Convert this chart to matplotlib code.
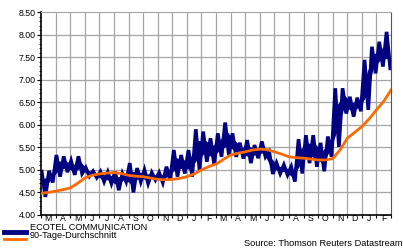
import numpy as np
import matplotlib
matplotlib.use("Agg")
from matplotlib import pyplot as plt
from matplotlib.lines import Line2D

plt.rcParams['font.family'] = ['Liberation Sans', 'DejaVu Sans']

#? Data, half-month highs and lows of the share price
months = ["M", "A", "M", "J", "J", "A", "S", "O", "N", "D", "J", "F",
          "M", "A", "M", "J", "J", "A", "S", "O", "N", "D", "J", "F"]

price_hi = [4.96, 4.98, 5.33, 5.30, 5.20, 5.30, 5.05, 4.97, 4.96, 4.95, 4.96, 4.92,
            5.15, 5.04, 5.00, 4.94, 4.94, 5.07, 5.44, 5.33, 5.44, 5.90, 5.85, 5.70,
            5.81, 6.05, 5.81, 5.60, 5.66, 5.55, 5.63, 5.40, 5.15, 5.11, 5.07, 5.68,
            5.77, 5.77, 5.60, 5.74, 6.81, 6.81, 6.62, 6.60, 7.44, 7.73, 7.84, 8.06]
price_lo = [4.40, 4.72, 4.85, 4.95, 4.89, 4.92, 4.86, 4.83, 4.74, 4.70, 4.55, 4.74,
            4.50, 4.74, 4.70, 4.78, 4.72, 4.78, 4.85, 4.92, 4.85, 5.00, 5.18, 5.12,
            5.29, 5.33, 5.29, 5.25, 5.15, 5.26, 5.29, 4.91, 4.92, 4.89, 4.74, 4.92,
            5.15, 5.07, 4.97, 5.29, 5.51, 6.25, 6.18, 6.30, 6.33, 7.14, 7.29, 7.25]

# 90-Tage-Durchschnitt, read at every half month
ma90 = [4.48, 4.50, 4.53, 4.56, 4.60, 4.70, 4.82, 4.88, 4.91, 4.93, 4.94, 4.92,
        4.88, 4.86, 4.85, 4.82, 4.79, 4.78, 4.79, 4.81, 4.85, 4.91, 5.00, 5.07,
        5.13, 5.23, 5.33, 5.37, 5.40, 5.44, 5.46, 5.45, 5.40, 5.35, 5.29, 5.27,
        5.26, 5.24, 5.22, 5.22, 5.25, 5.44, 5.70, 5.83, 5.96, 6.13, 6.33, 6.52, 6.77]

#? Zigzag between high and low so the line looks like the dense daily series
hi = np.array(price_hi)
lo = np.array(price_lo)
zig = np.column_stack([hi, lo]).ravel()
t_zig = np.linspace(0.05, 23.95, len(zig))
t_mid = (t_zig[0::2] + t_zig[1::2]) / 2
# solid core of the band so the zigzag does not show holes
core_top = lo + 0.72 * (hi - lo)
core_bot = lo + 0.28 * (hi - lo)
t_ma = np.arange(len(ma90)) * 0.5

#? Figure
fig = plt.figure(figsize=(4.03, 2.5), dpi=100)
ax = fig.add_axes([41/403, 35/250, 350/403, 203/250])

grid_c = "#a6a6a6"
for m in range(1, 24):
    ax.axvline(m, color=grid_c, lw=0.9, zorder=0)
for v in np.arange(4.5, 8.5, 0.5):
    ax.axhline(v, color=grid_c, lw=0.9, zorder=0)

navy = "#000080"
orange = "#ff6a00"
ax.fill_between(t_mid, core_bot, core_top, color=navy, lw=0, zorder=2)
ax.plot(t_zig, zig, color=navy, lw=2.6, solid_joinstyle="miter", zorder=2)
ax.plot(t_ma, ma90, color=orange, lw=2.0, zorder=3)

ax.set_xlim(0, 24)
ax.set_ylim(4.0, 8.5)

ax.set_yticks(np.arange(4.0, 8.51, 0.5))
ax.set_yticklabels([f"{v:.2f}" for v in np.arange(4.0, 8.51, 0.5)])
ax.set_yticks(np.arange(4.0, 8.51, 0.1), minor=True)

ax.set_xticks(np.arange(0, 25))
ax.set_xticklabels([])
ax.set_xticks(np.arange(24) + 0.5, minor=True)
ax.set_xticklabels(months, minor=True)

ax.tick_params(axis="y", which="major", length=3, width=0.8, labelsize=6.3, pad=1)
ax.tick_params(axis="y", which="minor", length=1.5, width=0.6)
ax.tick_params(axis="x", which="major", length=2.5, width=0.8)
ax.tick_params(axis="x", which="minor", length=0, labelsize=6.3, pad=-1)

for s in ["left", "bottom"]:
    ax.spines[s].set_linewidth(1.2)
    ax.spines[s].set_color("black")
ax.spines["right"].set_color("#555555")
ax.spines["top"].set_color(grid_c)

#? Legend (handles under the labels, like the original) and source
fig.add_artist(Line2D([4/403, 26/403], [1 - 231.5/250, 1 - 231.5/250], color=navy, lw=3.5))
fig.add_artist(Line2D([4/403, 26/403], [1 - 239/250, 1 - 239/250], color=orange, lw=2.0))
fig.text(30/403, 1 - 227.5/250, "ECOTEL COMMUNICATION", ha="left", va="center", fontsize=6.6)
fig.text(30/403, 1 - 235.5/250, "90-Tage-Durchschnitt", ha="left", va="center", fontsize=6.6)
fig.text(402/403, 1 - 243/250, "Source: Thomson Reuters Datastream", ha="right", va="center", fontsize=6.7)

fig.savefig("out.png", dpi=100)
